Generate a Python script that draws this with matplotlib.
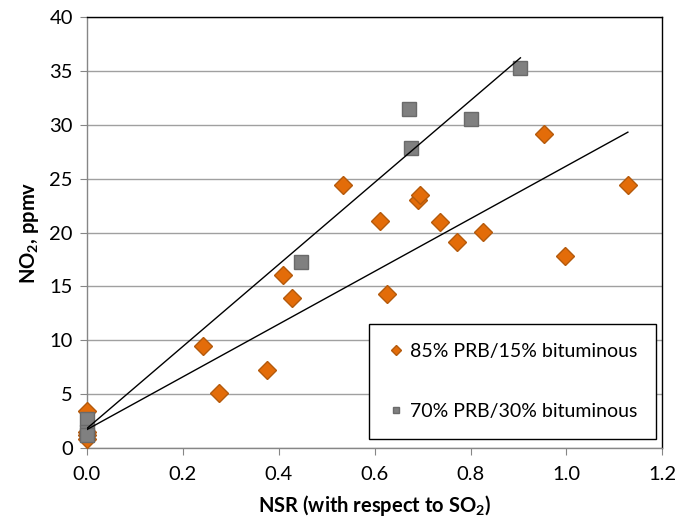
"""
NO2 vs NSR scatter with linear trendlines.
"""

import numpy as np
import matplotlib
matplotlib.use("Agg")
import matplotlib.pyplot as plt

plt.rcParams["font.family"] = ["Lato", "DejaVu Sans"]
plt.rcParams["mathtext.fontset"] = "custom"
plt.rcParams["mathtext.rm"] = "Lato"
plt.rcParams["mathtext.bf"] = "Lato:bold"

#-----
# Data
#-----
label_85 = "85% PRB/15% bituminous"
nsr_85 = [0.0, 0.0, 0.0, 0.0, 0.243, 0.276, 0.376, 0.410, 0.428, 0.535,
          0.611, 0.626, 0.691, 0.695, 0.736, 0.772, 0.826, 0.953, 0.997, 1.128]
no2_85 = [3.4, 1.5, 1.2, 0.8, 9.5, 5.1, 7.2, 16.1, 13.9, 24.4,
          21.1, 14.3, 23.0, 23.5, 21.0, 19.1, 20.1, 29.2, 17.8, 24.4]
trend_85 = (24.5, 1.7)   # slope, intercept

label_70 = "70% PRB/30% bituminous"
nsr_70 = [0.0, 0.0, 0.0, 0.446, 0.672, 0.676, 0.800, 0.904]
no2_70 = [2.7, 1.5, 1.2, 17.3, 31.5, 27.85, 30.6, 35.3]
trend_70 = (38.1, 1.8)

x_ticks = [0.0, 0.2, 0.4, 0.6, 0.8, 1.0, 1.2]
y_ticks = [0, 5, 10, 15, 20, 25, 30, 35, 40]

#-------
# Figure
#-------
fig = plt.figure(figsize=(6.78, 5.27), dpi=100)
ax = fig.add_axes([0.128, 0.150, 0.849, 0.817])

grid_c = "#a0a0a0"
axis_c = "#868686"

ax.set_xlim(0, 1.2)
ax.set_ylim(0, 40)
ax.set_xticks(x_ticks)
ax.set_yticks(y_ticks)
ax.set_xticklabels([f"{v:.1f}" for v in x_ticks])
ax.set_yticklabels([str(v) for v in y_ticks])
ax.yaxis.grid(True, color=grid_c, linewidth=1.0)
ax.set_axisbelow(True)
ax.tick_params(axis="both", direction="out", length=5, color=axis_c,
               labelsize=14.5, labelcolor="#000000")
ax.tick_params(axis="x", pad=8)
ax.tick_params(axis="y", pad=5)

for side in ["left", "bottom"]:
    ax.spines[side].set_color(axis_c)
    ax.spines[side].set_linewidth(1.0)
for side in ["top", "right"]:
    ax.spines[side].set_color("#000000")
    ax.spines[side].set_linewidth(1.0)

# linear trendlines over each series' range
for xs, (k, b) in [(nsr_70, trend_70), (nsr_85, trend_85)]:
    xx = np.array([min(xs), max(xs)])
    ax.plot(xx, k * xx + b, color="black", linewidth=1.0, zorder=4)

ax.plot(nsr_85, no2_85, linestyle="none", marker="D", markersize=9.2,
        markerfacecolor="#e36c09", markeredgecolor="#b45a0c",
        markeredgewidth=1.0, label=label_85, zorder=3, clip_on=False)
ax.plot(nsr_70, no2_70, linestyle="none", marker="s", markersize=10,
        markerfacecolor="#808080", markeredgecolor="#6a6a6a",
        markeredgewidth=1.0, label=label_70, zorder=3, clip_on=False)

ax.set_xlabel("NSR (with respect to SO$_\\mathbf{2}$)", fontsize=14.5,
              fontweight="bold", labelpad=7)
ax.set_ylabel("NO$_\\mathbf{2}$, ppmv", fontsize=14.5,
              fontweight="bold", labelpad=6)

leg = ax.legend(loc="lower right", bbox_to_anchor=(0.9896, 0.0202),
                borderaxespad=0, fontsize=14, markerscale=0.5,
                labelspacing=2.2, handlelength=0.8, handletextpad=0.3,
                borderpad=1.0, fancybox=False, framealpha=1,
                edgecolor="black")
leg.get_frame().set_linewidth(1.0)

plt.savefig("out.png", dpi=100)
plt.close()
